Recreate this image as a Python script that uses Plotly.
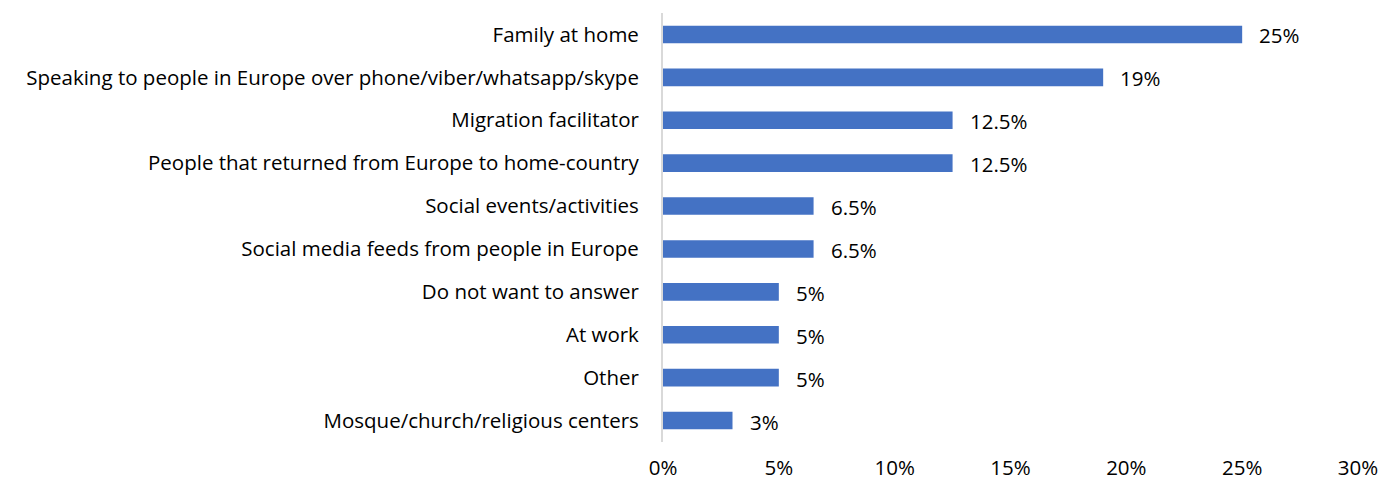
import plotly.graph_objects as go

categories = [
    "Family at home",
    "Speaking to people in Europe over phone/viber/whatsapp/skype",
    "Migration facilitator",
    "People that returned from Europe to home-country",
    "Social events/activities",
    "Social media feeds from people in Europe",
    "Do not want to answer",
    "At work",
    "Other",
    "Mosque/church/religious centers",
]
values = [25, 19, 12.5, 12.5, 6.5, 6.5, 5, 5, 5, 3]
value_labels = ["25%", "19%", "12.5%", "12.5%", "6.5%", "6.5%", "5%", "5%", "5%", "3%"]
x_ticks = [0, 5, 10, 15, 20, 25, 30]
x_tick_labels = ["0%", "5%", "10%", "15%", "20%", "25%", "30%"]

FONT = "Open Sans"
TEXT_SIZE = 20.5

fig = go.Figure(
    go.Bar(
        x=values,
        y=categories,
        orientation="h",
        marker=dict(color="#4472C4", line=dict(width=0)),
        hoverinfo="skip",
    )
)

for cat, val, lab in zip(categories, values, value_labels):
    fig.add_annotation(
        x=val, y=cat, text=lab, showarrow=False,
        xanchor="left", yanchor="middle", xshift=15, yshift=-1,
        font=dict(family=FONT, size=TEXT_SIZE, color="#000000"),
    )

fig.update_layout(
    width=1382,
    height=483,
    margin=dict(l=663, r=24, t=13, b=41, pad=0),
    paper_bgcolor="white",
    plot_bgcolor="white",
    bargap=0.59,
    showlegend=False,
    font=dict(family=FONT, size=TEXT_SIZE, color="#000000"),
)
fig.update_xaxes(
    range=[0, 30],
    tickvals=x_ticks,
    ticktext=x_tick_labels,
    showgrid=False,
    zeroline=False,
    showline=False,
    ticks="",
    ticklabelstandoff=11,
    automargin=False,
    tickfont=dict(family=FONT, size=TEXT_SIZE, color="#000000"),
)
fig.update_yaxes(
    autorange="reversed",
    showgrid=False,
    showline=True,
    linecolor="#D9D9D9",
    linewidth=2,
    ticks="",
    ticklabelstandoff=18,
    automargin=False,
    tickfont=dict(family=FONT, size=TEXT_SIZE, color="#000000"),
)

fig.write_html("out.html")
